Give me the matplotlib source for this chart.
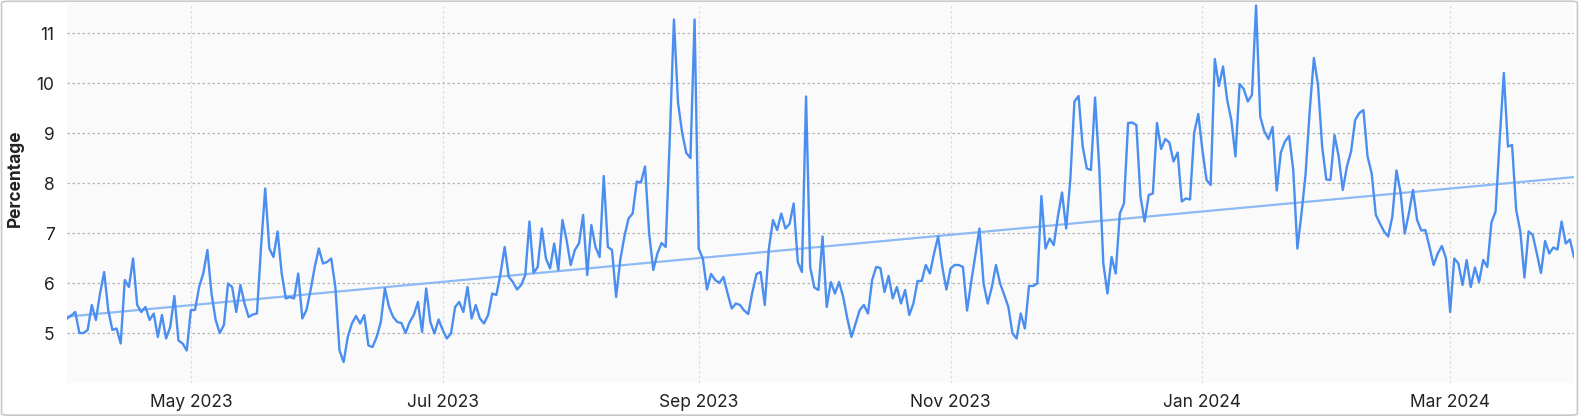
import numpy as np
import pandas as pd
import matplotlib
matplotlib.use("Agg")
import matplotlib.pyplot as plt
import matplotlib.dates as mdates
from matplotlib.patches import FancyBboxPatch

start_date = "2023-04-01"

# daily values, Apr 2023 .. Mar 2024
apr_may = [5.29, 5.35, 5.42, 5.00, 5.00, 5.06, 5.56, 5.26, 5.79, 6.22,
           5.45, 5.06, 5.09, 4.79, 6.06, 5.92, 6.49, 5.56, 5.42, 5.52,
           5.26, 5.39, 4.92, 5.36, 4.89, 5.12, 5.74, 4.85, 4.79, 4.65]
may_jun = [5.46, 5.46, 5.92, 6.19, 6.66, 5.79, 5.26, 5.00, 5.16, 5.99,
           5.92, 5.42, 5.96, 5.59, 5.32, 5.37, 5.39, 6.72, 7.89, 6.69,
           6.52, 7.03, 6.19, 5.69, 5.72, 5.69, 6.19, 5.29, 5.46]
jun_jul = [5.86, 6.32, 6.69, 6.39, 6.42, 6.49, 5.92, 4.65, 4.42, 4.92,
           5.19, 5.34, 5.19, 5.36, 4.75, 4.72, 4.92, 5.22, 5.89, 5.52,
           5.32, 5.22, 5.20, 5.00, 5.22, 5.36, 5.62, 5.02, 5.89, 5.22]
jul_aug = [4.99, 5.27, 5.06, 4.89, 4.99, 5.52, 5.62, 5.42, 5.92, 5.29,
           5.56, 5.29, 5.19, 5.36, 5.79, 5.76, 6.19, 6.72, 6.12, 6.02,
           5.87, 5.96, 6.16, 7.23, 6.20, 6.32, 7.09, 6.49, 6.29, 6.79]
aug_sep = [6.26, 7.26, 6.86, 6.36, 6.66, 6.79, 7.36, 6.16, 7.16, 6.72,
           6.52, 8.14, 6.72, 6.66, 5.72, 6.46, 6.93, 7.29, 7.39, 8.03,
           8.01, 8.33, 6.99, 6.26, 6.59, 6.80, 6.72, 8.90, 11.27, 9.60]
sep_oct = [9.00, 8.60, 8.50, 11.27, 6.69, 6.49, 5.87, 6.18, 6.06, 6.00,
           6.12, 5.79, 5.49, 5.59, 5.56, 5.45, 5.38, 5.82, 6.18, 6.22,
           5.56, 6.69, 7.26, 7.06, 7.39, 7.09, 7.18, 7.59, 6.42, 6.22]
oct_nov = [9.73, 6.32, 5.91, 5.86, 6.93, 5.52, 6.02, 5.79, 6.02, 5.72,
           5.29, 4.92, 5.19, 5.46, 5.56, 5.39, 6.06, 6.32, 6.30, 5.82,
           6.14, 5.69, 5.92, 5.59, 5.86, 5.36, 5.59, 6.04, 6.04, 6.36]
nov_dec = [6.19, 6.59, 6.93, 6.32, 5.87, 6.29, 6.36, 6.36, 6.32, 5.45,
           6.02, 6.56, 7.09, 5.99, 5.59, 5.92, 6.36, 5.99, 5.76, 5.52,
           4.99, 4.89, 5.39, 5.09, 5.94, 5.94, 5.99, 7.74, 6.69, 6.89]
dec_jan = [6.76, 7.33, 7.81, 7.09, 8.06, 9.63, 9.74, 8.73, 8.29, 8.26,
           9.71, 8.33, 6.39, 5.79, 6.52, 6.19, 7.39, 7.59, 9.20, 9.21,
           9.16, 7.73, 7.23, 7.76, 7.79, 9.20, 8.68, 8.88, 8.81, 8.43]
jan_feb = [8.61, 7.63, 7.69, 7.67, 9.00, 9.38, 8.66, 8.06, 7.96, 10.48,
           9.94, 10.33, 9.66, 9.26, 8.53, 9.98, 9.88, 9.63, 9.76, 11.55,
           9.33, 9.03, 8.88, 9.12, 7.85, 8.61, 8.83, 8.94, 8.26, 6.69]
feb_mar = [7.39, 8.19, 9.46, 10.50, 9.96, 8.73, 8.07, 8.06, 8.96, 8.53,
           7.86, 8.33, 8.63, 9.26, 9.40, 9.46, 8.53, 8.19, 7.36, 7.19,
           7.03, 6.93, 7.33, 8.25, 7.81, 6.99, 7.39, 7.86, 7.26, 7.05, 7.06]
march = [6.72, 6.36, 6.59, 6.74, 6.49, 5.42, 6.49, 6.39, 5.96, 6.46,
         5.92, 6.31, 6.02, 6.46, 6.32, 7.21, 7.43, 8.86, 10.20, 8.73,
         8.76, 7.46, 7.03, 6.11, 7.03, 6.96, 6.59, 6.20, 6.84, 6.59,
         6.71, 6.67, 7.23, 6.79, 6.87, 6.52]

values = np.array(apr_may + may_jun + jun_jul + jul_aug + aug_sep + sep_oct
                  + oct_nov + nov_dec + dec_jan + jan_feb + feb_mar + march)
dates = pd.date_range(start_date, periods=len(values), freq="D")

# linear trend
xnum = mdates.date2num(dates)
slope, icpt = np.polyfit(xnum, values, 1)
trend = slope * xnum + icpt

plt.rcParams['font.family'] = ['Inter', 'DejaVu Sans']

fig = plt.figure(figsize=(15.79, 4.16), dpi=100)
fig.patch.set_facecolor('white')
ax = fig.add_axes([67 / 1579, 33 / 416, 1507 / 1579, 380 / 416])
ax.set_facecolor('#fafafa')

ax.plot(dates, trend, color='#8dbaf5', lw=1.6, zorder=3)
ax.plot(dates, values, color='#4a8ef0', lw=1.7, zorder=4)

ax.set_xlim(dates[0], dates[-1])
ax.set_ylim(4.0, 11.6)
ax.set_yticks([5, 6, 7, 8, 9, 10, 11])
ax.xaxis.set_major_locator(mdates.MonthLocator(bymonth=[1, 3, 5, 7, 9, 11]))
ax.xaxis.set_major_formatter(mdates.DateFormatter('%b %Y'))

ax.grid(axis='y', color='#b5b5b5', linestyle=(0, (2, 2)), lw=0.9, zorder=1)
ax.grid(axis='x', color='#dcdcdc', linestyle=(0, (2, 2)), lw=0.9, zorder=1)
for s in ax.spines.values():
    s.set_visible(False)
ax.tick_params(axis='both', length=0, labelsize=12.5, colors='#222222')
ax.tick_params(axis='y', pad=9)
ax.tick_params(axis='x', pad=8)

ax.set_ylabel('Percentage', fontsize=12.5, fontweight='bold', color='#222222')
ax.yaxis.set_label_coords(-0.0285, 0.54)

border = FancyBboxPatch((0.001, 0.002), 0.998, 0.995, boxstyle="round,pad=0,rounding_size=0.004",
                        transform=fig.transFigure, facecolor='none', edgecolor='#c8c8c8', lw=1.2)
fig.patches.append(border)

fig.savefig('out.png', dpi=100)
